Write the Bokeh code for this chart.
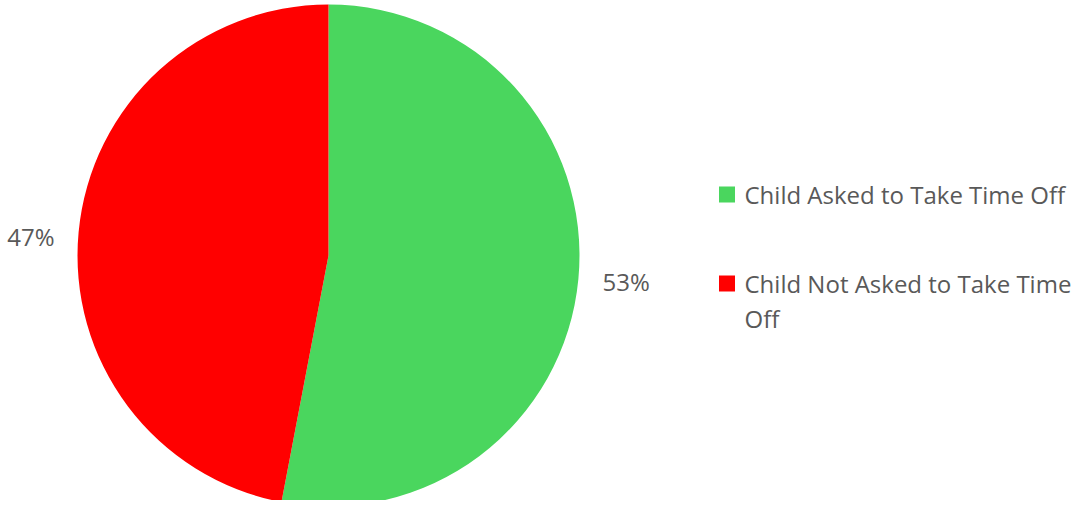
import numpy as np
import textwrap
from bokeh.plotting import figure
from bokeh.models import Range1d
from bokeh.core.properties import value
from bokeh.embed import file_html
from bokeh.resources import INLINE

categories = ["Child Asked to Take Time Off", "Child Not Asked to Take Time Off"]
shares = [53, 47]
colors = ["#4AD65E", "#FF0000"]

FONT = "Open Sans"
TEXT_COLOR = "#595959"

W, H = 1079, 500
p = figure(width=W, height=H, output_backend="svg", toolbar_location=None,
           x_range=Range1d(0, W), y_range=Range1d(0, H),
           min_border=0, outline_line_color=None)
p.axis.visible = False
p.grid.visible = False
p.background_fill_color = "white"


def Y(page_y):
    return H - page_y


cx, cy, r = 328, Y(255), 251
vals = np.array(shares, dtype=float)
frac = vals / vals.sum()
ends_cum = np.cumsum(frac)
starts_cum = ends_cum - frac
start_angles = np.pi / 2 - starts_cum * 2 * np.pi
end_angles = np.pi / 2 - ends_cum * 2 * np.pi

for s, e, c in zip(start_angles, end_angles, colors):
    p.wedge(x=cx, y=cy, radius=r, start_angle=s, end_angle=e, direction="clock",
            fill_color=c, line_color=None)

# percentage labels outside
mid = (start_angles + end_angles) / 2
lab_r = 299
lx = cx + lab_r * np.cos(mid)
ly = cy + lab_r * np.sin(mid)
ly = ly + np.array([2, -9])
p.text(x=list(lx), y=list(ly), text=[f"{v:g}%" for v in shares],
       text_font=value(FONT), text_font_size="24px", text_color=TEXT_COLOR,
       text_align="center", text_baseline="middle")

# legend
leg_x_sq = 726.5
leg_x_txt = 744
mid_y = [Y(194), Y(283)]
line_h = 35
for i, (lab, c) in enumerate(zip(categories, colors)):
    lines = textwrap.wrap(lab, 28)
    p.rect(x=leg_x_sq, y=mid_y[i], width=16, height=16,
           fill_color=c, line_color=None)
    for j, ln in enumerate(lines):
        p.text(x=[leg_x_txt], y=[mid_y[i] - j * line_h], text=[ln],
               text_font=value(FONT), text_font_size="24px", text_color=TEXT_COLOR,
               text_align="left", text_baseline="middle")

open("out.html", "w").write(file_html(p, INLINE))
